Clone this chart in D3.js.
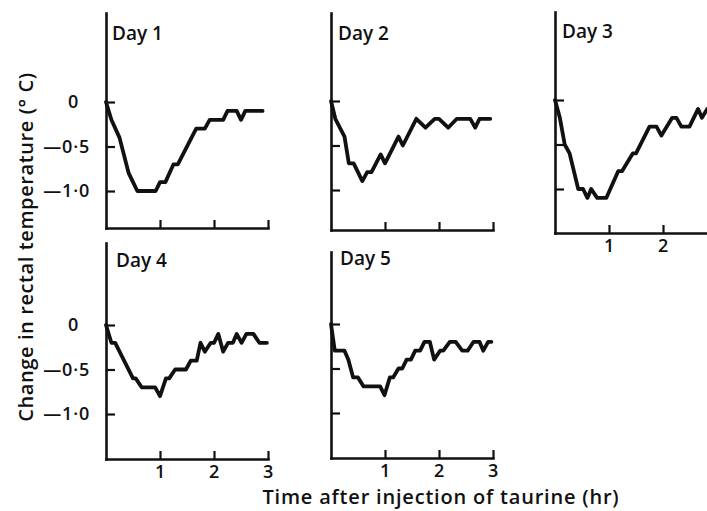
<!DOCTYPE html>
<html>
<head>
<meta charset="utf-8">
<script src="https://cdn.jsdelivr.net/npm/d3@7"></script>
<style>
  body { margin: 0; background: #fff; }
  text { font-family: "Open Sans", Lato, sans-serif; fill: #111; }
</style>
</head>
<body>
<svg id="chart" width="707" height="511"></svg>
<script>
// change in rectal temperature (deg C) vs hours after taurine injection
const day1 = [[0, 0], [0.1, -0.2], [0.25, -0.4], [0.42, -0.8], [0.58, -1.0], [0.92, -1.0], [1.0, -0.9],
  [1.1, -0.9], [1.25, -0.7], [1.33, -0.7], [1.67, -0.3], [1.83, -0.3], [1.92, -0.2], [2.17, -0.2],
  [2.25, -0.1], [2.42, -0.1], [2.5, -0.2], [2.58, -0.1], [2.9, -0.1]];
const day2 = [[0, 0], [0.08, -0.2], [0.25, -0.4], [0.33, -0.7], [0.42, -0.7], [0.58, -0.9], [0.67, -0.8],
  [0.75, -0.8], [0.92, -0.6], [1.0, -0.7], [1.25, -0.4], [1.33, -0.5], [1.58, -0.2], [1.75, -0.3],
  [1.92, -0.2], [2.0, -0.2], [2.17, -0.3], [2.33, -0.2], [2.58, -0.2], [2.67, -0.3], [2.75, -0.2], [2.95, -0.2]];
const day3 = [[0, 0], [0.09, -0.2], [0.18, -0.5], [0.27, -0.6], [0.43, -1.0], [0.52, -1.0], [0.6, -1.1],
  [0.67, -1.0], [0.78, -1.1], [0.95, -1.1], [1.17, -0.8], [1.24, -0.8], [1.44, -0.6], [1.5, -0.6],
  [1.75, -0.3], [1.88, -0.3], [1.97, -0.4], [2.17, -0.2], [2.25, -0.2], [2.34, -0.3], [2.49, -0.3],
  [2.65, -0.1], [2.72, -0.2], [2.82, -0.1], [2.95, -0.1]];
const day4 = [[0, 0], [0.1, -0.2], [0.17, -0.2], [0.5, -0.6], [0.55, -0.6], [0.66, -0.7], [0.91, -0.7],
  [1.0, -0.8], [1.11, -0.6], [1.17, -0.6], [1.28, -0.5], [1.48, -0.5], [1.57, -0.4], [1.68, -0.4],
  [1.75, -0.2], [1.83, -0.3], [1.94, -0.2], [2.0, -0.2], [2.08, -0.1], [2.17, -0.3], [2.26, -0.2],
  [2.35, -0.2], [2.42, -0.1], [2.51, -0.2], [2.6, -0.1], [2.73, -0.1], [2.84, -0.2], [2.98, -0.2]];
const day5 = [[0, 0], [0.07, -0.3], [0.25, -0.3], [0.32, -0.4], [0.41, -0.6], [0.5, -0.6], [0.6, -0.7],
  [0.91, -0.7], [0.99, -0.8], [1.09, -0.6], [1.15, -0.6], [1.25, -0.5], [1.32, -0.5], [1.4, -0.4],
  [1.48, -0.4], [1.56, -0.3], [1.65, -0.3], [1.73, -0.2], [1.83, -0.2], [1.91, -0.4], [2.02, -0.3],
  [2.08, -0.3], [2.2, -0.2], [2.31, -0.2], [2.43, -0.3], [2.53, -0.3], [2.64, -0.2], [2.75, -0.2],
  [2.82, -0.3], [2.91, -0.2], [2.97, -0.2]];

const dayLabels = ['Day 1', 'Day 2', 'Day 3', 'Day 4', 'Day 5'];
const yTicks = [0, -0.5, -1.0];
const yTickLabels = ['0', '\u20140\u00b75', '\u20141\u00b70'];
const xTicks = [1, 2, 3];
const xTitle = 'Time after injection of taurine (hr)';
const yTitle = 'Change in rectal temperature (\u00b0 C)';

const W = 707;
const PX_HR = 54;   // pixels per hour
const PX_DEG = 89;  // pixels per deg C

// layout of each small panel: x0/y0 = pixel of origin, top/bottom = y-axis extent
const panels = [
  { data: day1, x0: 106, y0: 102, top: 13, bottom: 228, yLab: true, xLab: false, lx: 112, ly: 40 },
  { data: day2, x0: 331, y0: 101, top: 13, bottom: 230, yLab: false, xLab: false, lx: 338, ly: 40 },
  { data: day3, x0: 555, y0: 100, top: 12, bottom: 233, yLab: false, xLab: true, lx: 562, ly: 38 },
  { data: day4, x0: 106, y0: 325, top: 243, bottom: 459, yLab: true, xLab: true, lx: 116, ly: 267 },
  { data: day5, x0: 331, y0: 324, top: 252, bottom: 458, yLab: false, xLab: true, lx: 340, ly: 265 }
];

const svg = d3.select('#chart');

panels.forEach((p, i) => {
  const x = d3.scaleLinear().domain([0, 3]).range([p.x0, p.x0 + 3 * PX_HR]);
  const y = d3.scaleLinear()
    .domain([(p.y0 - p.bottom) / PX_DEG, (p.y0 - p.top) / PX_DEG])
    .range([p.bottom, p.top]);

  const g = svg.append('g');

  const yAxis = d3.axisLeft(y)
    .tickValues(yTicks)
    .tickSizeInner(-9)
    .tickSizeOuter(0)
    .tickPadding(16)
    .tickFormat((d, k) => (p.yLab ? yTickLabels[k] : ''));

  // labels that would fall past the page edge are left off (the figure is cropped there)
  const xAxis = d3.axisBottom(x)
    .tickValues(xTicks)
    .tickSizeInner(-8)
    .tickSizeOuter(0)
    .tickPadding(6)
    .tickFormat((d) => (p.xLab && x(d) < W - 8 ? d : ''));

  g.append('g').attr('transform', `translate(${p.x0},0)`).call(yAxis);
  g.append('g').attr('transform', `translate(0,${p.bottom})`).call(xAxis);

  g.selectAll('.domain').attr('stroke', '#111').attr('stroke-width', 2.6).attr('stroke-linecap', 'square');
  g.selectAll('.tick line').attr('stroke', '#111').attr('stroke-width', 2.2);
  g.selectAll('.tick text')
    .attr('fill', '#111')
    .style('font-family', '"Open Sans", sans-serif')
    .style('font-size', '18px')
    .style('font-weight', 600)
    .style('letter-spacing', '0.8px');
  // the "0" label sits under the first digit of "-0.5"
  g.selectAll('.tick text').filter((d) => d === 0).attr('dx', -11);

  g.append('path')
    .datum(p.data)
    .attr('fill', 'none')
    .attr('stroke', '#111')
    .attr('stroke-width', 3.8)
    .attr('stroke-linejoin', 'round')
    .attr('stroke-linecap', 'round')
    .attr('d', d3.line().x((d) => x(d[0])).y((d) => y(d[1])));

  g.append('text')
    .attr('x', p.lx)
    .attr('y', p.ly)
    .style('font-size', '19px')
    .style('font-weight', 600)
    .text(dayLabels[i]);
});

svg.append('text')
  .attr('x', 441)
  .attr('y', 504)
  .attr('text-anchor', 'middle')
  .style('font-size', '20px')
  .style('font-weight', 600)
  .style('letter-spacing', '0.8px')
  .text(xTitle);

svg.append('text')
  .attr('transform', 'translate(33,247) rotate(-90)')
  .attr('text-anchor', 'middle')
  .style('font-size', '20px')
  .style('font-weight', 600)
  .style('letter-spacing', '0.6px')
  .text(yTitle);
</script>
</body>
</html>
